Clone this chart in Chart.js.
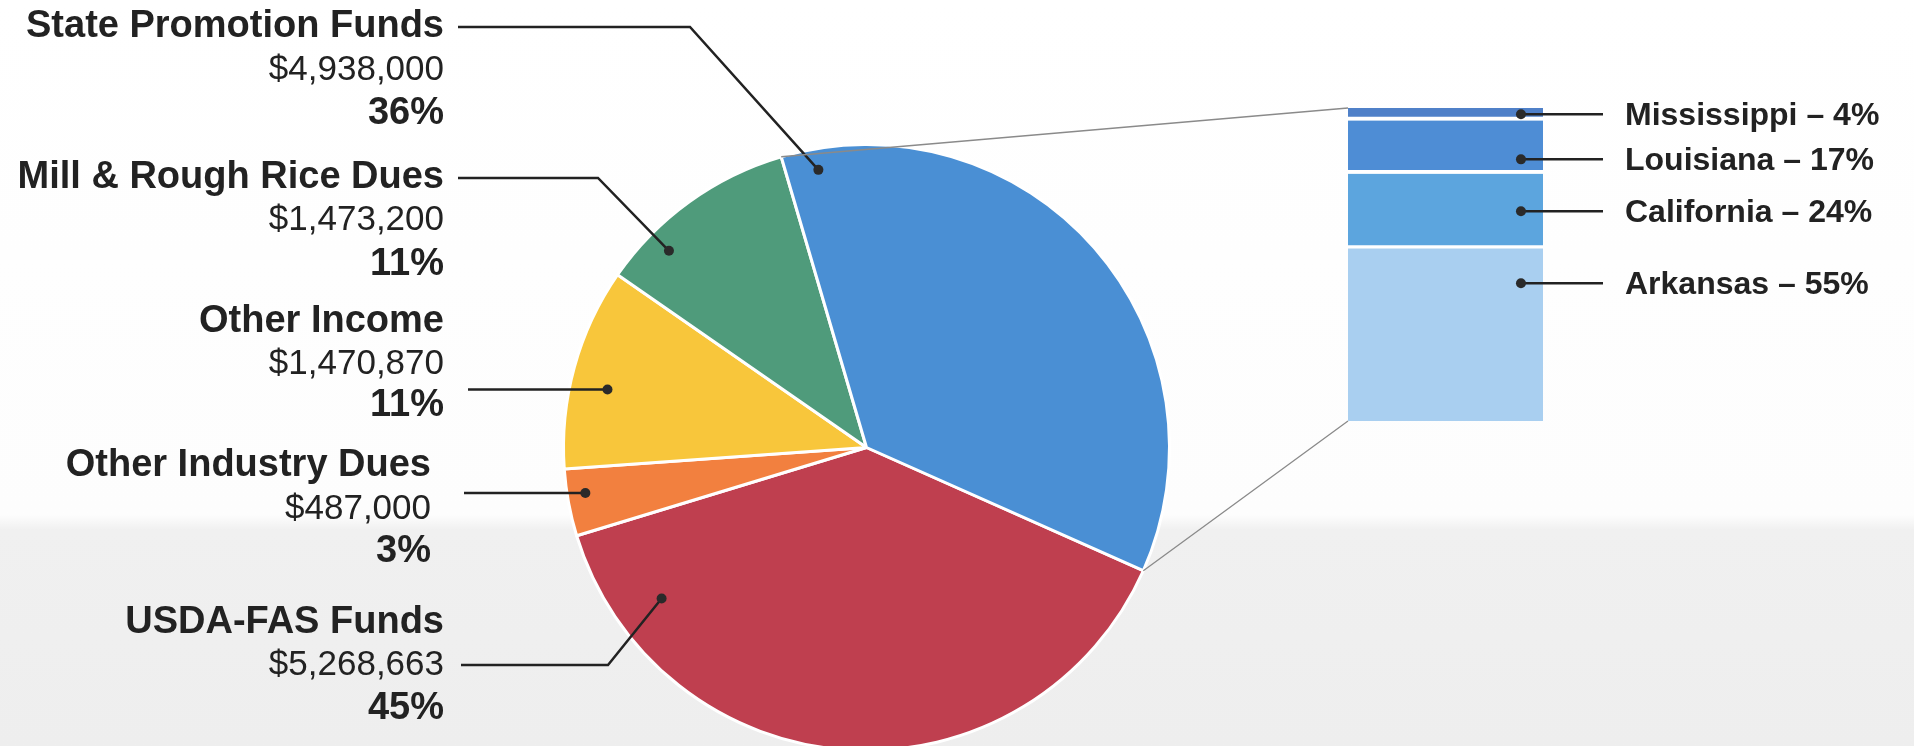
<!DOCTYPE html>
<html>
<head>
<meta charset="utf-8">
<script src="https://cdn.jsdelivr.net/npm/chart.js@4.4.1/dist/chart.umd.min.js"></script>
<style>
    html, body { margin: 0; padding: 0; }
    body {
        width: 1914px;
        height: 746px;
        overflow: hidden;
        background: linear-gradient(to bottom, #ffffff 0px, #fdfdfd 515px, #f0f0f0 530px, #eeeeee 746px);
    }
    .layer { position: absolute; left: 0; top: 0; }
</style>
</head>
<body>
<div class="layer"><canvas id="pieChart" width="1914" height="760"></canvas></div>
<div class="layer"><canvas id="stateChart" width="1914" height="760"></canvas></div>
<script>
// Revenue sources (top-to-bottom label order)
const categories = ['State Promotion Funds', 'Mill & Rough Rice Dues', 'Other Income', 'Other Industry Dues', 'USDA-FAS Funds'];
const amounts = [4938000, 1473200, 1470870, 487000, 5268663];
const percentLabels = ['36%', '11%', '11%', '3%', '45%'];
const sliceColors = ['#4a8fd4', '#4f9b7b', '#f8c63b', '#f2803f', '#bf3f4f'];

// State promotion funds breakdown (top-to-bottom)
const states = ['Mississippi', 'Louisiana', 'California', 'Arkansas'];
const stateShares = [4, 17, 24, 55];
const stateColors = ['#4f80c8', '#4e8dd5', '#5ca5de', '#a9cff0'];

// label placement (pixels) and where each leader dot sits inside its slice
const labelLayout = [
    { right: 444, titleY: 27,  amountY: 70,  pctY: 114, lineX: 458, lineY: 27,  elbowX: 690, frac: 0.05, rf: 0.93 },
    { right: 444, titleY: 178, amountY: 220, pctY: 265, lineX: 458, lineY: 178, elbowX: 598, frac: 0.26, rf: 0.92 },
    { right: 444, titleY: 322, amountY: 364, pctY: 406, lineX: 468, lineY: null, elbowX: null, frac: 0.43, rf: 0.876 },
    { right: 431, titleY: 466, amountY: 509, pctY: 552, lineX: 464, lineY: null, elbowX: null, frac: 0.6, rf: 0.94 },
    { right: 444, titleY: 623, amountY: 665, pctY: 709, lineX: 461, lineY: 665, elbowX: 608, frac: 0.86, rf: 0.84 }
];
const stateDotFrac = [0.5, 0.73, 0.5, 0.2];

const FONT = "'Liberation Sans', Arial, sans-serif";
const INK = '#222222';

// pie is drawn clockwise, so feed it in reverse label order
const pieOrder = categories.map((_, i) => categories.length - 1 - i);

function drawDot(ctx, x, y) {
    ctx.beginPath();
    ctx.arc(x, y, 5, 0, Math.PI * 2);
    ctx.fillStyle = '#2a2a2a';
    ctx.fill();
}

const pieLabels = {
    id: 'pieLabels',
    afterDraw(chart) {
        const ctx = chart.ctx;
        const arcs = chart.getDatasetMeta(0).data;
        ctx.save();
        categories.forEach((name, i) => {
            const g = labelLayout[i];
            const arc = arcs[categories.length - 1 - i];
            const p = arc.getProps(['x', 'y', 'startAngle', 'endAngle', 'outerRadius'], true);
            const a = p.startAngle + g.frac * (p.endAngle - p.startAngle);
            const dx = p.x + Math.cos(a) * p.outerRadius * g.rf;
            const dy = p.y + Math.sin(a) * p.outerRadius * g.rf;

            // leader line
            ctx.strokeStyle = INK;
            ctx.lineWidth = 2.5;
            ctx.beginPath();
            if (g.elbowX !== null) {
                ctx.moveTo(g.lineX, g.lineY);
                ctx.lineTo(g.elbowX, g.lineY);
            } else {
                ctx.moveTo(g.lineX, dy);
            }
            ctx.lineTo(dx, dy);
            ctx.stroke();
            drawDot(ctx, dx, dy);

            // text block
            ctx.fillStyle = INK;
            ctx.textAlign = 'right';
            ctx.textBaseline = 'middle';
            ctx.font = 'bold 38px ' + FONT;
            ctx.fillText(name, g.right, g.titleY);
            ctx.font = '35px ' + FONT;
            ctx.fillText('$' + amounts[i].toLocaleString('en-US'), g.right, g.amountY);
            ctx.font = 'bold 38px ' + FONT;
            ctx.fillText(percentLabels[i], g.right, g.pctY);
        });
        ctx.restore();
    }
};

const pieChart = new Chart(document.getElementById('pieChart'), {
    type: 'pie',
    data: {
        labels: pieOrder.map(i => categories[i]),
        datasets: [{
            data: pieOrder.map(i => amounts[i]),
            backgroundColor: pieOrder.map(i => sliceColors[i]),
            borderColor: '#ffffff',
            borderWidth: 3,
            hoverOffset: 0
        }]
    },
    options: {
        responsive: false,
        animation: false,
        events: [],
        rotation: 114,
        layout: { padding: { left: 562, right: 743, top: 143, bottom: 8 } },
        plugins: {
            legend: { display: false },
            tooltip: { enabled: false }
        }
    },
    plugins: [pieLabels]
});

const stateLabels = {
    id: 'stateLabels',
    beforeDatasetsDraw(chart) {
        // thin connectors from the blue slice to the breakdown bar
        const ctx = chart.ctx;
        const blue = pieChart.getDatasetMeta(0).data[pieOrder.indexOf(0)];
        const p = blue.getProps(['x', 'y', 'startAngle', 'endAngle', 'outerRadius'], true);
        const topBar = chart.getDatasetMeta(chart.data.datasets.length - 1).data[0];
        const botBar = chart.getDatasetMeta(0).data[0];
        const left = topBar.x - topBar.width / 2;
        ctx.save();
        ctx.strokeStyle = '#8a8a8a';
        ctx.lineWidth = 1.3;
        ctx.beginPath();
        ctx.moveTo(p.x + Math.cos(p.startAngle) * p.outerRadius, p.y + Math.sin(p.startAngle) * p.outerRadius);
        ctx.lineTo(left, topBar.y);
        ctx.moveTo(p.x + Math.cos(p.endAngle) * p.outerRadius, p.y + Math.sin(p.endAngle) * p.outerRadius);
        ctx.lineTo(botBar.x - botBar.width / 2, botBar.base);
        ctx.stroke();
        ctx.restore();
    },
    afterDraw(chart) {
        const ctx = chart.ctx;
        ctx.save();
        states.forEach((s, i) => {
            const dsIndex = states.length - 1 - i;
            const bar = chart.getDatasetMeta(dsIndex).data[0];
            const dx = bar.x - bar.width / 2 + bar.width * 0.887;
            const dy = bar.y + stateDotFrac[i] * (bar.base - bar.y);
            ctx.strokeStyle = INK;
            ctx.lineWidth = 2.5;
            ctx.beginPath();
            ctx.moveTo(dx, dy);
            ctx.lineTo(1603, dy);
            ctx.stroke();
            drawDot(ctx, dx, dy);

            ctx.fillStyle = INK;
            ctx.textAlign = 'left';
            ctx.textBaseline = 'middle';
            ctx.font = 'bold 32px ' + FONT;
            ctx.fillText(s + ' \u2013 ' + stateShares[i] + '%', 1625, dy + 2);
        });
        ctx.restore();
    }
};

// bottom-up stacking: Arkansas first
const stackOrder = states.map((_, i) => states.length - 1 - i);

new Chart(document.getElementById('stateChart'), {
    type: 'bar',
    data: {
        labels: ['State Promotion Funds'],
        datasets: stackOrder.map((i, k) => ({
            label: states[i],
            data: [stateShares[i]],
            backgroundColor: stateColors[i],
            borderColor: '#ffffff',
            borderWidth: { top: 0, left: 0, right: 0, bottom: k === 0 ? 0 : 4 },
            borderSkipped: false,
            barPercentage: 1,
            categoryPercentage: 1
        }))
    },
    options: {
        responsive: false,
        animation: false,
        events: [],
        layout: { padding: { left: 1348, right: 371, top: 108, bottom: 339 } },
        scales: {
            x: { display: false, stacked: true },
            y: { display: false, stacked: true, min: 0, max: 100 }
        },
        plugins: {
            legend: { display: false },
            tooltip: { enabled: false }
        }
    },
    plugins: [stateLabels]
});
</script>
</body>
</html>
